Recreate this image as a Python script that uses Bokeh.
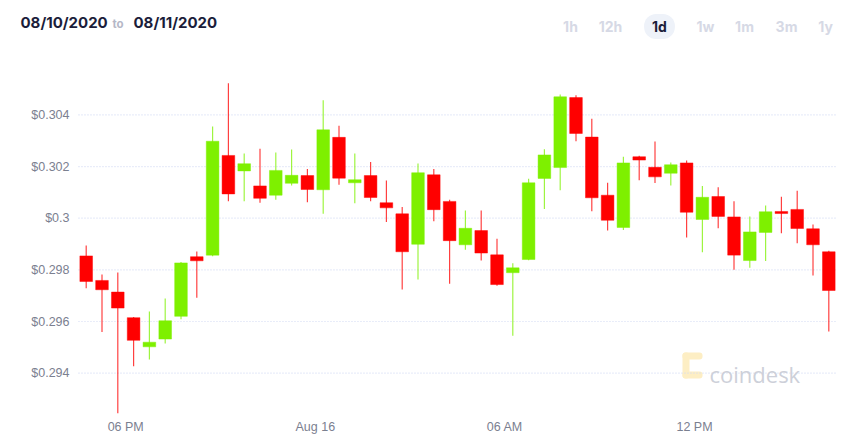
import pandas as pd
from bokeh.plotting import figure
from bokeh.models import ColumnDataSource, Range1d, Label, BoxAnnotation
from bokeh.embed import file_html
from bokeh.resources import INLINE

# ---- data ----
start_time = "2020-08-15 16:45"
n_candles = 48
opens = [0.29854, 0.29759, 0.29714, 0.29615, 0.29502, 0.29532, 0.29620, 0.29851,
         0.29857, 0.30243, 0.30183, 0.30125, 0.30089, 0.30135, 0.30165, 0.30110,
         0.30313, 0.30137, 0.30165, 0.30060, 0.30017, 0.29899, 0.30168, 0.30065,
         0.29897, 0.29952, 0.29858, 0.29789, 0.29840, 0.30154, 0.30196, 0.30467,
         0.30314, 0.30089, 0.29964, 0.30238, 0.30197, 0.30174, 0.30214, 0.29995,
         0.30084, 0.30005, 0.29836, 0.29945, 0.30026, 0.30034, 0.29959, 0.29870]
highs = [0.29894, 0.29782, 0.29790, 0.29617, 0.29639, 0.29689, 0.29830, 0.29871,
         0.30355, 0.30522, 0.30250, 0.30269, 0.30254, 0.30266, 0.30190, 0.30457,
         0.30358, 0.30250, 0.30218, 0.30146, 0.30043, 0.30212, 0.30190, 0.30071,
         0.30030, 0.30030, 0.29920, 0.29826, 0.30153, 0.30267, 0.30479, 0.30476,
         0.30385, 0.30137, 0.30238, 0.30242, 0.30297, 0.30216, 0.30223, 0.30125,
         0.30120, 0.30066, 0.30007, 0.30049, 0.30083, 0.30106, 0.29976, 0.29874]
lows = [0.29729, 0.29559, 0.29245, 0.29427, 0.29453, 0.29515, 0.29609, 0.29692,
        0.29853, 0.30066, 0.30066, 0.30060, 0.30071, 0.30127, 0.30062, 0.30017,
        0.30129, 0.30058, 0.30066, 0.29985, 0.29724, 0.29763, 0.29988, 0.29746,
        0.29878, 0.29836, 0.29738, 0.29545, 0.29837, 0.30036, 0.30108, 0.30298,
        0.30027, 0.29952, 0.29954, 0.30147, 0.30136, 0.30127, 0.29925, 0.29868,
        0.29961, 0.29800, 0.29808, 0.29834, 0.29942, 0.29903, 0.29778, 0.29561]
closes = [0.29755, 0.29723, 0.29652, 0.29527, 0.29520, 0.29603, 0.29827, 0.29835,
          0.30298, 0.30094, 0.30211, 0.30077, 0.30185, 0.30166, 0.30111, 0.30342,
          0.30155, 0.30149, 0.30080, 0.30040, 0.29870, 0.30176, 0.30033, 0.29913,
          0.29961, 0.29865, 0.29743, 0.29808, 0.30137, 0.30245, 0.30470, 0.30328,
          0.30079, 0.29992, 0.30214, 0.30225, 0.30160, 0.30207, 0.30023, 0.30081,
          0.30007, 0.29857, 0.29947, 0.30025, 0.30018, 0.29960, 0.29897, 0.29720]

x_tick_times = ["2020-08-15 18:00", "2020-08-16 00:00", "2020-08-16 06:00", "2020-08-16 12:00"]
x_tick_labels = ["06 PM", "Aug 16", "06 AM", "12 PM"]
y_ticks = [0.294, 0.296, 0.298, 0.300, 0.302, 0.304]
y_tick_labels = ["$0.294", "$0.296", "$0.298", "$0.3", "$0.302", "$0.304"]

header_from = "08/10/2020"
header_to = "08/11/2020"
ranges = ["1h", "12h", "1d", "1w", "1m", "3m", "1y"]
active_range = "1d"

GREEN = "#7ef000"
RED = "#ff0000"
W, H = 857, 446

# ---- build ----
midnight = pd.Timestamp("2020-08-16 00:00")
times = pd.date_range(start_time, periods=n_candles, freq="30min")
hours = [(t - midnight) / pd.Timedelta(hours=1) for t in times]
tick_hours = [(pd.Timestamp(t) - midnight) / pd.Timedelta(hours=1) for t in x_tick_times]

colors = [GREEN if c >= o else RED for o, c in zip(opens, closes)]
src = ColumnDataSource(dict(
    x=hours, o=opens, h=highs, l=lows, c=closes,
    top=[max(o, c) for o, c in zip(opens, closes)],
    bottom=[min(o, c) for o, c in zip(opens, closes)],
    color=colors,
))

# the frame fills the whole canvas; chart area spans px 78..837 horizontally
p = figure(width=W, height=H, output_backend="svg", toolbar_location=None,
           x_range=Range1d(-9.962, 17.158), y_range=Range1d(0.291161, 0.308428),
           min_border=0, x_axis_location=None, y_axis_location=None)
p.outline_line_color = None
p.grid.visible = False

# dotted horizontal grid lines across the chart area
grid_x0 = hours[0] - 0.244
grid_x1 = hours[-1] + 0.275
p.segment(x0=[grid_x0] * len(y_ticks), x1=[grid_x1] * len(y_ticks), y0=y_ticks, y1=y_ticks,
          line_color="#d3daf3", line_dash="1 2", line_width=1.2)


def sy(y):
    return H - y


# watermark (drawn under the candles)
LOGO = "#fdeec4"
for l, r, t, b in [(682, 702, 352, 359), (682, 689, 352, 378), (682, 702, 371, 378)]:
    p.add_layout(BoxAnnotation(left=l, right=r, bottom=sy(b), top=sy(t),
                               left_units="screen", right_units="screen",
                               top_units="screen", bottom_units="screen",
                               fill_color=LOGO, fill_alpha=1, line_color=None,
                               border_radius=3, level="underlay"))
p.add_layout(Label(x=709, y=sy(373), x_units="screen", y_units="screen", text="coindesk",
                   text_font="Open Sans", text_font_size="22px", text_color="#cdd0d9",
                   text_baseline="alphabetic", text_align="left"))

p.segment(x0="x", x1="x", y0="l", y1="h", source=src, line_color="color",
          line_width=1.2, line_alpha=0.75)
p.vbar(x="x", width=0.4, top="top", bottom="bottom", source=src,
       fill_color="color", line_color="color", line_alpha=0.45, line_width=1)

AX_COLOR = "#7b8090"
AX_FONT = "Liberation Sans"
AX_SIZE = "12.5px"
for v, lab in zip(y_ticks, y_tick_labels):
    p.add_layout(Label(x=69, y=v, x_units="screen", y_units="data", text=lab,
                       text_font=AX_FONT, text_font_size=AX_SIZE, text_color=AX_COLOR,
                       text_align="right", text_baseline="middle"))
for v, lab in zip(tick_hours, x_tick_labels):
    p.add_layout(Label(x=v, y=H - 426, x_units="data", y_units="screen", text=lab,
                       text_font=AX_FONT, text_font_size=AX_SIZE, text_color=AX_COLOR,
                       text_align="center", text_baseline="middle"))

# header
hfont = "Inter"
p.add_layout(Label(x=20, y=sy(22), x_units="screen", y_units="screen", text=header_from,
                   text_font=hfont, text_font_style="bold", text_font_size="15px",
                   text_color="#1b1d3a", text_baseline="middle", text_align="left"))
p.add_layout(Label(x=112, y=sy(23), x_units="screen", y_units="screen", text="to",
                   text_font=hfont, text_font_size="11.5px", text_font_style="bold",
                   text_color="#b5b8c7", text_baseline="middle", text_align="left"))
p.add_layout(Label(x=133, y=sy(22), x_units="screen", y_units="screen", text=header_to,
                   text_font=hfont, text_font_style="bold", text_font_size="15px",
                   text_color="#1b1d3a", text_baseline="middle", text_align="left"))
range_x = [570, 610, 659, 705, 744, 786, 825]
for lab, cx in zip(ranges, range_x):
    active = lab == active_range
    kw = {}
    if active:
        kw = dict(background_fill_color="#eef2f9", padding=(8, 4), border_radius=12)
    p.add_layout(Label(x=cx, y=sy(26), x_units="screen", y_units="screen", text=lab,
                       text_font=hfont, text_font_style="bold", text_font_size="14px",
                       text_color="#1b1d3a" if active else "#d6d9e5",
                       text_baseline="middle", text_align="center", **kw))

open("out.html", "w").write(file_html(p, INLINE))
